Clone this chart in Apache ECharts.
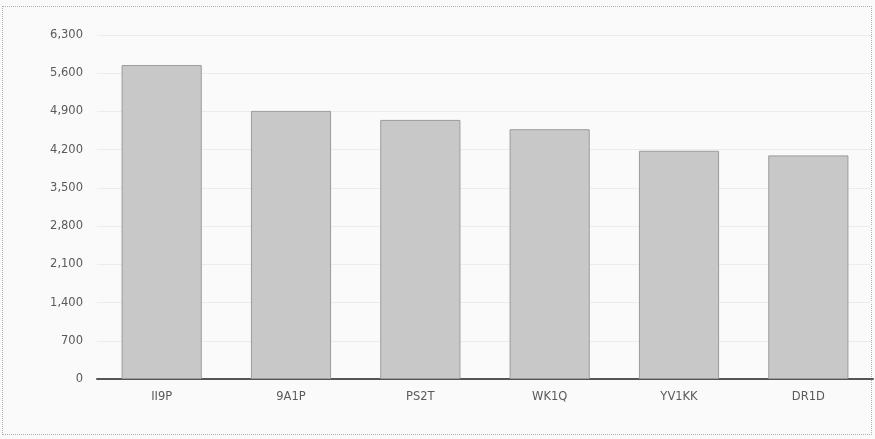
<!DOCTYPE html>
<html>
<head>
<meta charset="utf-8">
<script src="https://cdn.jsdelivr.net/npm/echarts@6/dist/echarts.min.js"></script>
<style>
html,body{margin:0;padding:0;background:#fafafa;}
#frame{position:absolute;left:2px;top:6px;width:870px;height:429px;border:1px dotted #b0b0b0;box-sizing:border-box;}
#chart{position:absolute;left:0;top:0;width:875px;height:439px;}
</style>
</head>
<body>
<div id="frame"></div>
<div id="chart"></div>
<script>
const categories = ["II9P", "9A1P", "PS2T", "WK1Q", "YV1KK", "DR1D"];
const values = [5750, 4910, 4745, 4575, 4180, 4095];
const yTicks = [0, 700, 1400, 2100, 2800, 3500, 4200, 4900, 5600, 6300];

const chart = echarts.init(document.getElementById('chart'), null, {renderer: 'canvas'});
chart.setOption({
  animation: false,
  backgroundColor: 'transparent',
  grid: {left: 97, right: 2, top: 35, bottom: 60},
  xAxis: {
    type: 'category',
    data: categories,
    axisLine: {lineStyle: {color: '#555', width: 2}},
    axisTick: {show: false},
    axisLabel: {color: '#5a5a5a', fontSize: 11.5, fontFamily: 'DejaVu Sans, Verdana, sans-serif', margin: 12}
  },
  yAxis: {
    type: 'value',
    min: yTicks[0],
    max: yTicks[yTicks.length - 1],
    interval: 700,
    axisLine: {show: false},
    axisTick: {show: false},
    splitLine: {lineStyle: {color: '#ececec'}},
    axisLabel: {
      color: '#5a5a5a', fontSize: 11.5, fontFamily: 'DejaVu Sans, Verdana, sans-serif', margin: 14,
      formatter: v => v.toLocaleString('en-US')
    }
  },
  series: [{
    type: 'bar',
    data: values,
    barWidth: '62%',
    itemStyle: {color: '#c8c8c8', borderColor: '#9c9c9c', borderWidth: 1}
  }]
});
</script>
</body>
</html>
